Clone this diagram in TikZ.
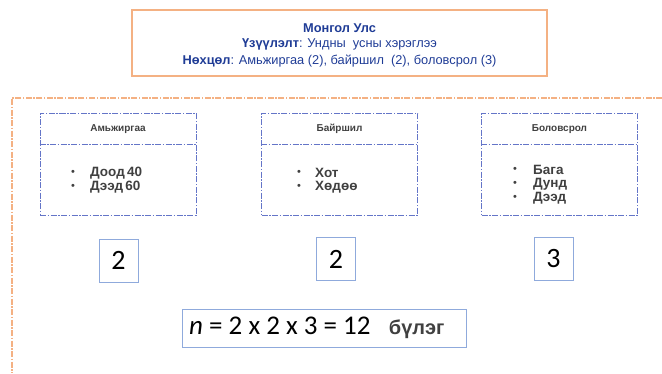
\documentclass[tikz,border=0pt]{standalone}
\usepackage{fontspec}
\setmainfont{Liberation Sans}
\newfontfamily\calfont{Carlito}
\definecolor{orb}{HTML}{F4B183}
\definecolor{dblue}{HTML}{1F3C96}
\definecolor{catblue}{HTML}{6475C8}
\definecolor{numblue}{HTML}{8FAADC}
\definecolor{dgray}{HTML}{404040}
\tikzset{
  catbox/.style={draw=catblue, line width=1pt, dash pattern=on 6pt off 1.5pt on 1.5pt off 1.5pt, minimum width=156pt, minimum height=102pt, inner sep=0pt},
  cathead/.style={font=\fontsize{10}{11}\selectfont\bfseries, text=dgray},
  bul/.style={anchor=center, font=\fontsize{11}{12}\selectfont, text=dgray},
  item/.style={anchor=west, font=\fontsize{13.5}{14}\selectfont\bfseries, text=dgray, inner sep=0pt},
  numbox/.style={draw=numblue, line width=1pt, minimum width=39pt, minimum height=43pt, inner sep=0pt, font=\calfont\fontsize{28}{30}\selectfont},
  toptext/.style={text=dblue, font=\fontsize{12.8}{14}\selectfont, inner sep=0pt}
}
\begin{document}
\begin{tikzpicture}[x=1pt,y=-1pt]
\useasboundingbox (0,0) rectangle (662,373);
% top box
\node[draw=orb, line width=1.5pt, minimum width=415pt, minimum height=66pt, inner sep=0pt] (top) at (339.5,43) {};
\node[toptext] (t1) at (339.5,28) {\bfseries Монгол Улс};
\node[toptext] (t2) at (339.5,44.5) {\bfseries Үзүүлэлт\mdseries: Ундны\ \ усны хэрэглээ};
\node[toptext] (t3) at (339.5,61) {\bfseries Нөхцөл\mdseries: Амьжиргаа (2), байршил\ \ (2), боловсрол (3)};
% orange frame
\coordinate (fr1) at (662,98);
\coordinate (fr2) at (12,98);
\coordinate (fr3) at (12,373);
\draw[orb, line width=1.2pt, dash pattern=on 6pt off 1.5pt on 1.5pt off 1.5pt] (fr1) -- (fr2) -- (fr3);
% category boxes
\foreach \n/\cx in {1/118, 2/339.5, 3/559.5}{
  \node[catbox] (b\n) at (\cx,164) {};
  \coordinate (s\n l) at ([yshift=-32pt]b\n.north west);
  \coordinate (s\n r) at ([yshift=-32pt]b\n.north east);
  \draw[catblue, line width=1pt, dash pattern=on 6pt off 1.5pt on 1.5pt off 1.5pt] (s\n l) -- (s\n r);
}
\node[cathead] (h1) at (118,129) {Амьжиргаа};
\node[cathead] (h2) at (339.5,129) {Байршил};
\node[cathead] (h3) at (559.5,129) {Боловсрол};
% items
\node[bul] (p11) at (73,173) {•};
\node[item] (i11) at (90,173) {Доод\,40};
\node[bul] (p12) at (73,187) {•};
\node[item] (i12) at (90,187) {Дээд\,60};
\node[bul] (p21) at (299,173) {•};
\node[item] (i21) at (315,173) {Хот};
\node[bul] (p22) at (299,187) {•};
\node[item] (i22) at (315,187) {Хөдөө};
\node[bul] (p31) at (515,170) {•};
\node[item] (i31) at (533,170) {Бага};
\node[bul] (p32) at (515,184) {•};
\node[item] (i32) at (533,184) {Дунд};
\node[bul] (p33) at (515,198) {•};
\node[item] (i33) at (533,198) {Дээд};
% number boxes
\node[numbox] (n1) at (118.5,260.5) {2};
\node[numbox] (n2) at (336,259) {2};
\node[numbox] (n3) at (553.5,259) {3};
% formula
\node[draw=numblue, line width=1pt, minimum width=284pt, minimum height=38pt, inner sep=0pt] (fb) at (324,328) {};
\node[anchor=west, inner sep=0pt, font=\calfont\fontsize{27}{30}\selectfont] (fm) at (189,328) {\itshape n\upshape\ = 2 x 2 x 3 = 12\ \ \ {\fontsize{20}{22}\selectfont\bfseries\color{dgray}\rmfamily бүлэг}};
\end{tikzpicture}
\end{document}
